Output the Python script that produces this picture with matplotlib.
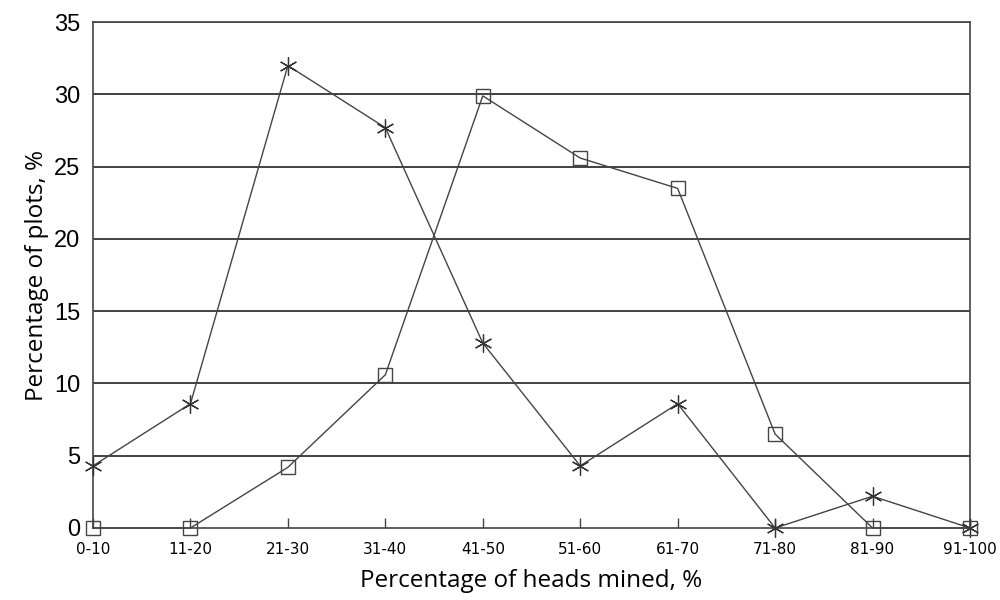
import matplotlib.pyplot as plt

# categories and series
classes = ["0-10", "11-20", "21-30", "31-40", "41-50",
           "51-60", "61-70", "71-80", "81-90", "91-100"]
star_series = [4.3, 8.6, 32.0, 27.7, 12.8, 4.3, 8.6, 0.0, 2.2, 0.0]
square_series = [0.0, 0.0, 4.2, 10.6, 29.9, 25.6, 23.5, 6.5, 0.0, 0.0]
y_ticks = [0, 5, 10, 15, 20, 25, 30, 35]

fig = plt.figure(figsize=(10, 6), dpi=100)
ax = fig.add_axes([0.093, 0.12, 0.877, 0.843])

x = list(range(len(classes)))

for yv in y_ticks[1:]:
    ax.axhline(yv, color="#333333", lw=1.3, zorder=1)

asterisk = (6, 2, 0)
ax.plot(x, star_series, color="#444444", lw=1.0, marker=asterisk,
        markersize=13, markeredgewidth=0.9, markeredgecolor="#333333",
        zorder=3, clip_on=False)
ax.plot(x, square_series, color="#444444", lw=1.0, marker="s",
        markersize=10, markerfacecolor="none", markeredgewidth=1.0,
        markeredgecolor="#444444", zorder=3, clip_on=False)

ax.set_xlim(0, len(classes) - 1)
ax.set_ylim(0, 35)
ax.set_xticks(x)
ax.set_xticklabels(classes, fontsize=11, family="DejaVu Sans")
ax.set_yticks(y_ticks)
ax.set_yticklabels([str(v) for v in y_ticks], fontsize=17, family="Liberation Sans")
ax.tick_params(axis="x", direction="in", length=7, width=1, color="#444444", pad=10)
ax.tick_params(axis="y", length=0, pad=9)

for side in ["top", "left", "right", "bottom"]:
    ax.spines[side].set_color("#444444")
    ax.spines[side].set_linewidth(1.2)

ax.set_xlabel("Percentage of heads mined, %", fontsize=17.5, family="Open Sans", labelpad=9)
ax.set_ylabel("Percentage of plots, %", fontsize=17.5, family="Open Sans", labelpad=4)

fig.savefig("out.png", dpi=100)
